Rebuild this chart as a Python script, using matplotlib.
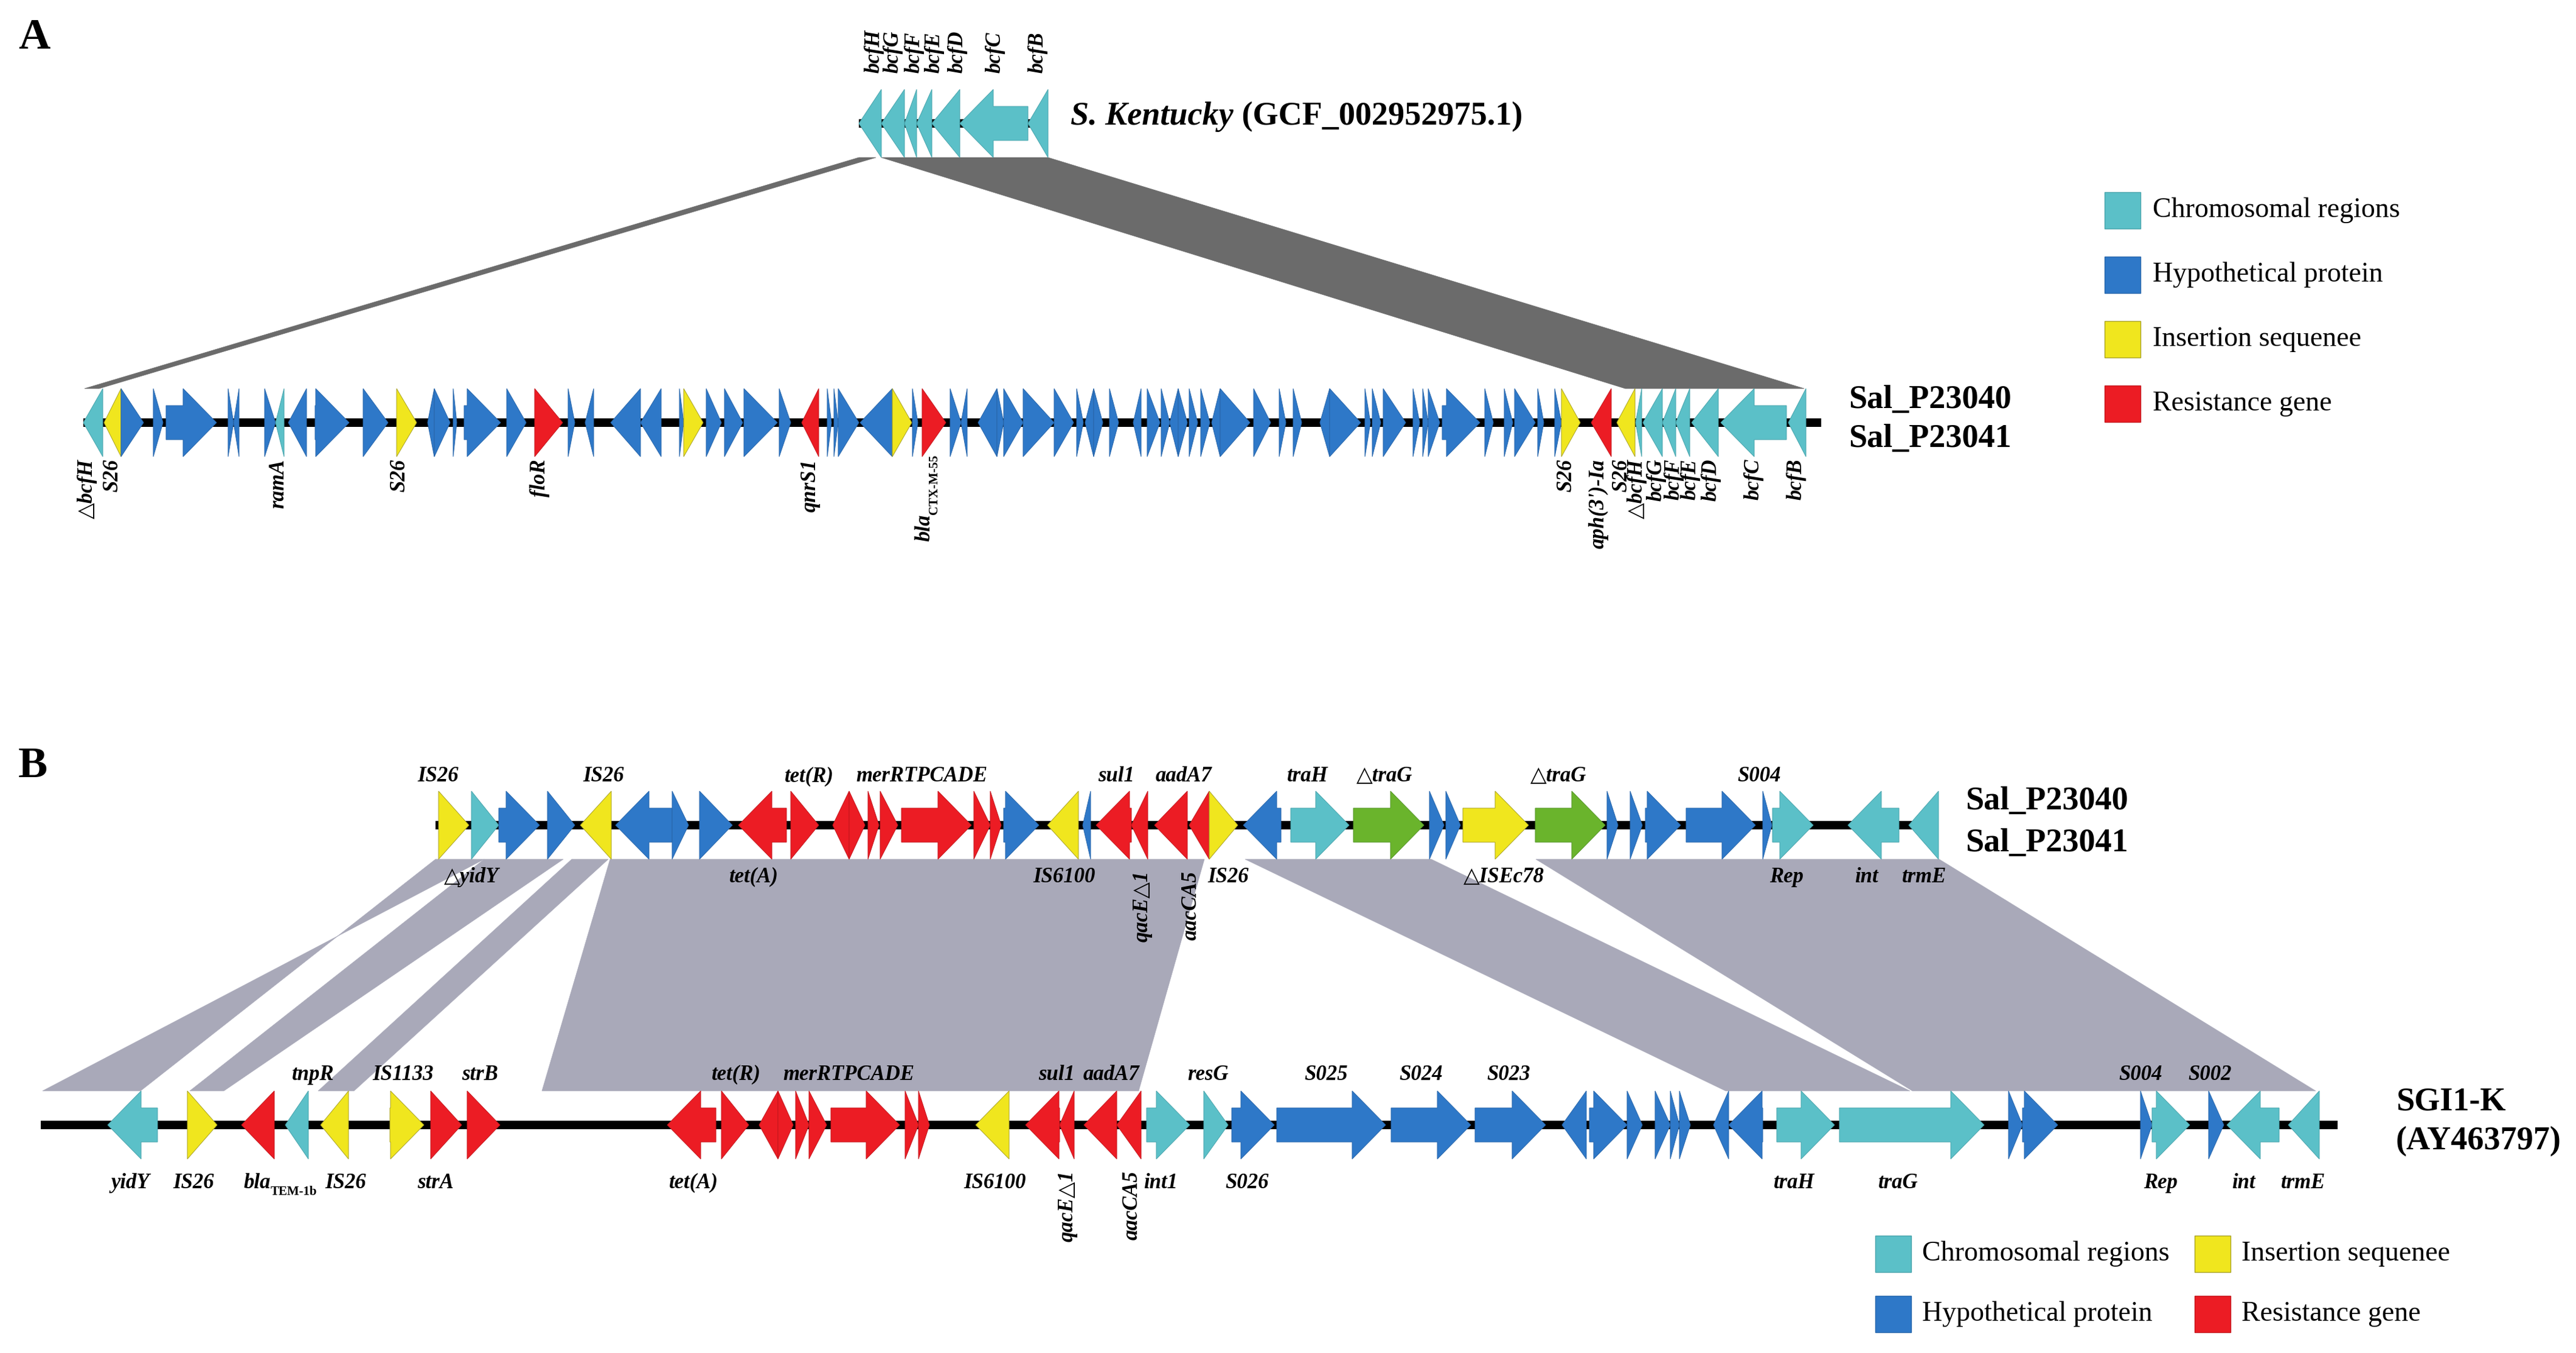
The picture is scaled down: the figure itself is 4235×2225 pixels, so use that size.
import matplotlib
matplotlib.use("Agg")
import matplotlib.pyplot as plt
from matplotlib.patches import Polygon, Rectangle

W_PX, H_PX = 4235, 2225
DPI = 100
PX_PER_KB = 10.0     # drawing scale of every track
HALF = 56.0          # px, half height of an arrow head
HEAD_KB = 5.5        # length of an arrow head

SERIF = ['Liberation Serif', 'DejaVu Serif', 'DejaVu Sans']

# gene classes
colors = {'c': '#5bc0c8', 'h': '#2e78c8', 'i': '#f0e61e', 'r': '#ec1c24', 'g': '#6ab42c'}
edges = {'c': '#48a4ac', 'h': '#2866ab', 'i': '#a8a225', 'r': '#c4161d', 'g': '#55952a'}
legend_keys = ['c', 'h', 'i', 'r']
legend_names = ['Chromosomal regions', 'Hypothetical protein', 'Insertion sequenee', 'Resistance gene']

# ---------------- data: (start kb, end kb, strand, class) ----------------
ken_len = 31.1
ken_genes = [(0.0, 3.7, -1, 'c'), (3.7, 7.5, -1, 'c'), (7.5, 9.5, -1, 'c'), (9.5, 12.0, -1, 'c'),
             (12.0, 16.6, -1, 'c'), (16.6, 27.8, -1, 'c'), (27.8, 31.1, -1, 'c')]
ken_top = [(2.5, 'bcfH'), (5.6, 'bcfG'), (9.1, 'bcfF'), (12.4, 'bcfE'), (16.2, 'bcfD'),
           (22.4, 'bcfC'), (29.4, 'bcfB')]

A_len = 285.7
A_genes = [
    (0.0, 3.2, -1, 'c'), (3.4, 6.2, -1, 'i'), (6.2, 9.9, 1, 'h'), (11.5, 13.1, 1, 'h'),
    (13.6, 21.9, 1, 'h'), (23.8, 24.7, 1, 'h'), (24.7, 25.6, -1, 'h'), (29.8, 31.6, 1, 'h'),
    (31.6, 33.0, -1, 'c'), (33.7, 36.7, -1, 'h'), (38.1, 43.7, 1, 'h'), (46.0, 50.1, 1, 'h'),
    (51.5, 54.8, 1, 'i'), (56.6, 57.7, -1, 'h'), (57.7, 60.3, 1, 'h'), (60.8, 61.4, 1, 'h'),
    (62.6, 68.6, 1, 'h'), (69.6, 72.8, 1, 'h'), (74.2, 78.8, 1, 'r'), (79.7, 80.8, 1, 'h'),
    (82.5, 83.9, -1, 'h'), (86.7, 91.6, -1, 'h'), (91.6, 95.0, -1, 'h'), (98.0, 98.7, 1, 'h'),
    (98.7, 101.9, 1, 'i'), (102.4, 104.9, 1, 'h'), (105.4, 108.4, 1, 'h'), (108.6, 114.1, 1, 'h'),
    (114.4, 116.3, 1, 'h'), (118.1, 120.9, -1, 'r'), (122.3, 123.0, 1, 'h'), (123.4, 124.1, 1, 'h'),
    (124.1, 127.5, 1, 'h'), (127.7, 133.0, -1, 'h'), (133.0, 136.2, 1, 'i'), (136.3, 137.2, 1, 'h'),
    (137.9, 141.8, 1, 'r'), (142.5, 144.3, 1, 'h'), (144.3, 145.3, -1, 'h'), (147.1, 150.2, -1, 'h'),
    (150.2, 151.3, 1, 'h'), (151.3, 154.5, 1, 'h'), (154.5, 159.6, 1, 'h'), (159.6, 162.8, 1, 'h'),
    (163.3, 164.4, 1, 'h'), (164.7, 166.1, -1, 'h'), (166.1, 167.6, 1, 'h'), (168.7, 170.2, 1, 'h'),
    (172.6, 173.9, -1, 'h'), (174.9, 177.0, 1, 'h'), (177.2, 178.6, 1, 'h'), (178.6, 180.0, -1, 'h'),
    (180.0, 181.5, 1, 'h'), (181.8, 183.2, 1, 'h'), (183.7, 185.2, 1, 'h'), (185.5, 186.9, -1, 'h'),
    (186.9, 191.8, 1, 'h'), (192.4, 195.2, 1, 'h'), (196.6, 197.7, 1, 'h'), (198.9, 200.3, 1, 'h'),
    (203.3, 204.9, -1, 'h'), (204.9, 210.0, 1, 'h'), (210.7, 211.6, 1, 'h'), (211.9, 213.3, 1, 'h'),
    (213.7, 217.4, 1, 'h'), (218.6, 219.7, 1, 'h'), (220.2, 221.1, 1, 'h'), (221.1, 223.0, 1, 'h'),
    (223.4, 229.6, 1, 'h'), (230.4, 231.8, 1, 'h'), (233.6, 235.0, 1, 'h'), (235.3, 238.7, 1, 'h'),
    (239.1, 240.1, 1, 'h'), (241.9, 243.0, 1, 'h'), (243.0, 246.1, 1, 'i'), (247.9, 251.2, -1, 'r'),
    (252.1, 255.1, -1, 'i'), (255.2, 256.2, -1, 'c'), (256.4, 259.6, -1, 'c'), (259.6, 261.8, -1, 'c'),
    (261.8, 264.1, -1, 'c'), (264.4, 268.8, -1, 'c'), (269.2, 280.0, -1, 'c'), (280.3, 283.2, -1, 'c')]
A_bottom_rot = [(0.6, '△bcfH'), (4.8, 'S26'), (32.1, 'ramA'), (52.0, 'S26'), (75.1, 'floR'),
                (119.5, 'qnrS1'), (243.8, 'S26'), (249.1, "aph(3')-Ia"), (252.9, 'S26'),
                (255.4, '△bcfH'), (258.6, 'bcfG'), (261.5, 'bcfF'), (264.2, 'bcfE'),
                (267.6, 'bcfD'), (274.6, 'bcfC'), (281.6, 'bcfB')]
A_bla = (138.3, 'bla', 'CTX-M-55')

Bt_len = 247.1
Bt_genes = [
    (0.5, 5.5, 1, 'i'), (5.9, 10.4, 1, 'c'), (10.4, 17.1, 1, 'h'), (18.4, 22.9, 1, 'h'),
    (23.8, 28.9, -1, 'i'), (29.6, 38.9, -1, 'h'), (38.9, 41.6, 1, 'h'), (43.4, 48.8, 1, 'h'),
    (49.8, 57.7, -1, 'r'), (58.4, 63.0, 1, 'r'), (65.3, 68.0, -1, 'r'), (68.0, 70.6, 1, 'r'),
    (71.1, 72.9, 1, 'r'), (73.1, 76.0, 1, 'r'), (76.6, 88.1, 1, 'r'), (88.5, 91.2, 1, 'r'),
    (91.2, 93.0, 1, 'r'), (93.4, 99.2, 1, 'h'), (100.6, 105.7, -1, 'i'), (106.4, 107.7, -1, 'h'),
    (108.6, 114.4, -1, 'r'), (114.4, 117.1, -1, 'r'), (118.2, 123.6, -1, 'r'), (123.9, 127.2, -1, 'r'),
    (127.2, 131.9, 1, 'i'), (132.8, 139.0, -1, 'h'), (140.6, 150.2, 1, 'c'), (150.9, 162.5, 1, 'g'),
    (163.4, 165.8, 1, 'h'), (166.1, 168.5, 1, 'h'), (168.9, 179.7, 1, 'i'), (180.8, 192.3, 1, 'g'),
    (192.6, 194.4, 1, 'h'), (196.4, 198.4, 1, 'h'), (198.9, 204.7, 1, 'h'), (205.6, 217.0, 1, 'h'),
    (218.2, 219.7, 1, 'h'), (219.8, 226.5, 1, 'c'), (232.2, 240.6, -1, 'c'), (242.2, 247.1, -1, 'c')]
Bt_top = [(0.4, 'IS26'), (27.6, 'IS26'), (61.4, 'tet(R)'), (79.9, 'merRTPCADE'), (111.9, 'sul1'),
          (123.0, 'aadA7'), (143.4, 'traH'), (156.0, '△traG'), (184.6, '△traG'), (217.6, 'S004')]
Bt_bottom = [(5.9, '△yidY'), (52.3, 'tet(A)'), (103.4, 'IS6100'), (130.3, 'IS26'),
             (175.6, '△ISEc78'), (222.1, 'Rep'), (235.2, 'int'), (244.8, 'trmE')]
Bt_rot = [(116.2, 'qacE△1'), (124.2, 'aacCA5')]

Bb_len = 377.6
Bb_genes = [
    (11.0, 19.2, -1, 'c'), (24.1, 29.0, 1, 'i'), (33.0, 38.4, -1, 'r'), (40.2, 44.0, -1, 'c'),
    (46.0, 50.6, -1, 'i'), (57.4, 63.0, 1, 'i'), (64.1, 69.2, 1, 'r'), (70.1, 75.5, 1, 'r'),
    (103.0, 111.0, -1, 'r'), (111.9, 116.4, 1, 'r'), (118.1, 121.2, -1, 'r'), (121.2, 123.7, 1, 'r'),
    (124.1, 126.3, 1, 'r'), (126.3, 129.2, 1, 'r'), (129.9, 141.2, 1, 'r'), (142.1, 144.3, 1, 'r'),
    (144.3, 146.1, 1, 'r'), (153.7, 159.2, -1, 'i'), (161.9, 167.5, -1, 'r'), (167.5, 169.9, -1, 'r'),
    (171.5, 176.9, -1, 'r'), (176.9, 180.9, -1, 'r'), (181.8, 188.9, 1, 'c'), (191.2, 195.2, 1, 'c'),
    (195.8, 202.8, 1, 'h'), (203.2, 221.1, 1, 'h'), (222.0, 235.1, 1, 'h'), (235.8, 247.4, 1, 'h'),
    (250.1, 254.1, -1, 'h'), (254.6, 260.8, 1, 'h'), (260.8, 263.3, 1, 'h'), (265.4, 267.9, 1, 'h'),
    (267.9, 269.4, 1, 'h'), (269.4, 271.2, 1, 'h'), (275.0, 277.5, -1, 'h'), (277.5, 283.1, -1, 'h'),
    (285.4, 294.9, 1, 'c'), (295.7, 319.5, 1, 'c'), (323.5, 325.8, 1, 'h'), (325.8, 331.6, 1, 'h'),
    (345.2, 347.1, 1, 'h'), (347.1, 353.3, 1, 'c'), (356.4, 358.9, 1, 'h'), (359.4, 368.0, -1, 'c'),
    (369.5, 374.6, -1, 'c')]
Bb_top = [(44.8, 'tnpR'), (59.6, 'IS1133'), (72.2, 'strB'), (114.3, 'tet(R)'), (132.8, 'merRTPCADE'),
          (167.0, 'sul1'), (176.0, 'aadA7'), (191.9, 'resG'), (211.3, 'S025'), (226.9, 'S024'),
          (241.3, 'S023'), (345.2, 'S004'), (356.6, 'S002')]
Bb_bottom = [(14.7, 'yidY'), (25.1, 'IS26'), (50.1, 'IS26'), (64.9, 'strA'), (107.3, 'tet(A)'),
             (156.9, 'IS6100'), (184.1, 'int1'), (198.3, 'S026'), (288.3, 'traH'), (305.4, 'traG'),
             (348.5, 'Rep'), (362.1, 'int'), (372.0, 'trmE')]
Bb_bla = (37.8, 'bla', 'TEM-1b')
Bb_rot = [(168.8, 'qacE△1'), (179.4, 'aacCA5')]

# homologous blocks: (top start, top end, bottom start, bottom end, inverted)
links_A = [(0.0, 2.8, 0.2, 2.6, False), (3.7, 31.1, 253.5, 282.9, False)]
links_B = [(0.0, 8.0, 0.3, 16.4, True), (8.0, 21.0, 24.5, 30.1, False),
           (22.4, 28.4, 45.6, 51.5, False), (28.7, 126.4, 82.4, 180.5, False),
           (133.1, 163.7, 277.0, 307.3, False), (180.9, 247.2, 307.7, 374.0, False)]

# ---------------- layout (px of the output picture) ----------------
layout = {'ken': (1412, 203), 'A': (137, 695), 'Bt': (716, 1357), 'Bb': (67, 1850)}

fig = plt.figure(figsize=(W_PX / DPI, H_PX / DPI), dpi=DPI)
bg = fig.add_axes([0, 0, 1, 1])
bg.set_xlim(0, W_PX)
bg.set_ylim(H_PX, 0)
bg.set_axis_off()

LAB = dict(family=SERIF, style='italic', weight='bold', fontsize=25)


def track_axes(name, length):
    x0, yc = layout[name]
    ax = fig.add_axes([x0 / W_PX, (H_PX - yc - HALF) / H_PX,
                       length * PX_PER_KB / W_PX, 2 * HALF / H_PX])
    ax.set_xlim(0, length)
    ax.set_ylim(-1, 1)
    ax.set_axis_off()
    ax.patch.set_visible(False)
    ax.add_patch(Rectangle((0, -0.12), length, 0.24, color='black', lw=0, zorder=1, clip_on=False))
    return ax


def arrow_points(s, e, strand):
    L = e - s
    h = min(HEAD_KB, L)
    if strand > 0:
        b = e - h
        if h >= L:
            return [(s, 1), (e, 0), (s, -1)]
        return [(s, .5), (b, .5), (b, 1), (e, 0), (b, -1), (b, -.5), (s, -.5)]
    b = s + h
    if h >= L:
        return [(e, 1), (s, 0), (e, -1)]
    return [(e, .5), (b, .5), (b, 1), (s, 0), (b, -1), (b, -.5), (e, -.5)]


def draw_genes(ax, genes):
    for s, e, strand, k in genes:
        ax.add_patch(Polygon(arrow_points(s, e, strand), closed=True, facecolor=colors[k],
                             edgecolor=edges[k], lw=0.7, zorder=2, clip_on=False))


def labels(ax, items, y, rot=0, va='center'):
    for kb, txt in items:
        ax.text(kb, y, txt, rotation=rot, ha='center', va=va, clip_on=False, **LAB)


def to_bg(ax, kb, y):
    return bg.transData.inverted().transform(ax.transData.transform((kb, y)))


def draw_links(ax_top, ax_bot, links, color):
    for t0, t1, b0, b1, inv in links:
        p1, p2 = to_bg(ax_top, t0, -1), to_bg(ax_top, t1, -1)
        q1, q2 = to_bg(ax_bot, b0, 1), to_bg(ax_bot, b1, 1)
        pts = [p1, p2, q1, q2] if inv else [p1, p2, q2, q1]
        bg.add_patch(Polygon(pts, closed=True, facecolor=color, edgecolor=color, lw=0.5, zorder=1))


ax_ken = track_axes('ken', ken_len)
ax_A = track_axes('A', A_len)
ax_Bt = track_axes('Bt', Bt_len)
ax_Bb = track_axes('Bb', Bb_len)

draw_links(ax_ken, ax_A, links_A, '#6b6b6b')
draw_links(ax_Bt, ax_Bb, links_B, '#a9a9b9')

for ax, g in [(ax_ken, ken_genes), (ax_A, A_genes), (ax_Bt, Bt_genes), (ax_Bb, Bb_genes)]:
    draw_genes(ax, g)

# gene names
labels(ax_ken, ken_top, 1.48, rot=90, va='bottom')
labels(ax_A, A_bottom_rot, -1.07, rot=90, va='top')
kb, main, sub = A_bla
t = ax_A.text(kb, -3.48, main, rotation=90, ha='center', va='bottom', clip_on=False, **LAB)
ax_A.annotate(sub, xy=(1.0, 1.0), xycoords=t, rotation=90, ha='center', va='bottom',
              family=SERIF, weight='bold', fontsize=15)

labels(ax_Bt, Bt_top, 1.43)
labels(ax_Bt, Bt_bottom, -1.52)
labels(ax_Bt, Bt_rot, -1.34, rot=90, va='top')

labels(ax_Bb, Bb_top, 1.48)
labels(ax_Bb, Bb_bottom, -1.7)
labels(ax_Bb, Bb_rot, -1.34, rot=90, va='top')
kb, main, sub = Bb_bla
t = ax_Bb.text(kb, -1.7, main, ha='right', va='center', clip_on=False, **LAB)
ax_Bb.annotate(sub, xy=(1.0, 0.05), xycoords=t, ha='left', va='center',
               family=SERIF, weight='bold', fontsize=15)

# sequence names
NAME = dict(family=SERIF, weight='bold', fontsize=39, va='center', ha='left')
t = bg.text(1760, 192, 'S. Kentucky', style='italic', **NAME)
bg.annotate(' (GCF_002952975.1)', xy=(1.0, 0.5), xycoords=t, **NAME)
bg.text(3039, 658, 'Sal_P23040', **NAME)
bg.text(3039, 722, 'Sal_P23041', **NAME)
bg.text(3231, 1318, 'Sal_P23040', **NAME)
bg.text(3231, 1387, 'Sal_P23041', **NAME)
bg.text(3939, 1812, 'SGI1-K', **NAME)
bg.text(3939, 1877, '(AY463797)', **NAME)
bg.text(30, 62, 'A', family=SERIF, weight='bold', fontsize=52, va='center', ha='left')
bg.text(30, 1260, 'B', family=SERIF, weight='bold', fontsize=52, va='center', ha='left')

# legends
LEG = dict(family=SERIF, fontsize=33, va='center', ha='left')
for i, (k, name) in enumerate(zip(legend_keys, legend_names)):
    yc = 346 + i * 106
    bg.add_patch(Rectangle((3460, yc - 30), 59, 60, facecolor=colors[k], edgecolor=edges[k], lw=1))
    bg.text(3539, yc, name, **LEG)

for i, (k, name) in enumerate(zip(legend_keys, legend_names)):
    col, row = (0, 0) if k == 'c' else (0, 1) if k == 'h' else (1, 0) if k == 'i' else (1, 1)
    x = 3083 + col * 525
    yc = 2062 + row * 99
    bg.add_patch(Rectangle((x, yc - 30), 59, 60, facecolor=colors[k], edgecolor=edges[k], lw=1))
    bg.text(x + 77, yc, name, **LEG)

fig.savefig('out.png', dpi=DPI)
